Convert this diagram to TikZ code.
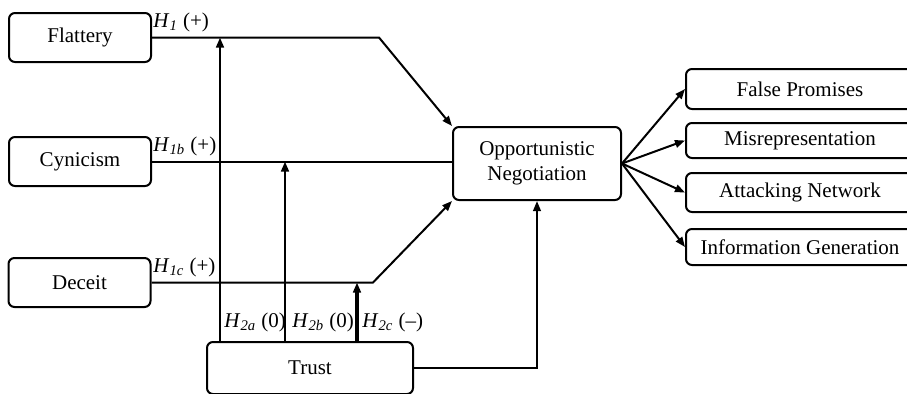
\documentclass[tikz,border=0pt]{standalone}
\usepackage{fontspec}
\setmainfont{Liberation Serif}
\usetikzlibrary{arrows.meta}

\begin{document}
\begin{tikzpicture}[x=0.5pt, y=-0.5pt,
    box/.style={draw, line width=1pt, rounded corners=3pt, inner sep=0pt, align=center,
        font=\fontsize{10.5}{12.5}\selectfont},
    lbl/.style={anchor=base west, inner sep=0pt, font=\fontsize{10.5}{12.5}\selectfont},
    link/.style={line width=1pt, -{Triangle[length=5pt,width=3.8pt]}}]
    \useasboundingbox (0,0) rectangle (907,393);
    \clip (0,0) rectangle (907,393);

    % Predictors
    \node[box, minimum width=71pt, minimum height=24.5pt] (flattery) at (80,37.5) {Flattery};
    \node[box, minimum width=71pt, minimum height=24.5pt] (cynicism) at (80,161.5) {Cynicism};
    \node[box, minimum width=71pt, minimum height=24.5pt] (deceit) at (79.5,282.5) {Deceit};

    % Moderator
    \node[box, minimum width=103pt, minimum height=26pt] (trust) at (310,368) {Trust};

    % Centre
    \node[box, minimum width=84pt, minimum height=36.5pt] (opp) at (537,163.5) {Opportunistic\\Negotiation};

    % Outcomes
    \node[box, minimum width=114pt, minimum height=20pt] (promises) at (800,89) {False Promises};
    \node[box, minimum width=114pt, minimum height=17.5pt] (misrep) at (800,140.5) {Misrepresentation};
    \node[box, minimum width=114pt, minimum height=19.5pt] (attack) at (800,192.5) {Attacking Network};
    \node[box, minimum width=114pt, minimum height=18pt] (infogen) at (800,247) {Information Generation};

    % Paths to centre
    \coordinate (k1) at (379,37.5);
    \coordinate (k3) at (373,282.5);
    \draw[link] (flattery.east) -- (k1) -- (opp.north west);
    \draw[line width=1pt] (cynicism.east) -- (cynicism.east -| opp.west);
    \draw[link] (deceit.east) -- (k3) -- (opp.south west);
    \draw[link] (trust.east) -| (opp.south);

    % Moderation
    \coordinate (m1) at (220,37.5);
    \coordinate (m2) at (285,161.5);
    \coordinate (m3) at (357,282.5);
    \draw[link, line width=1.3pt] (trust.north -| m1) -- (m1);
    \draw[link, line width=1.3pt] (trust.north -| m2) -- (m2);
    \draw[link, line width=2pt] (trust.north -| m3) -- (m3);

    % Outcomes
    \foreach \n in {promises,misrep,attack,infogen}
        \draw[link] (opp.east) -- (\n.west);

    % Labels
    \node[lbl] (h1) at (153,27) {\textit{H}\textsubscript{\textit{1}} (+)};
    \node[lbl] (h1b) at (153,151) {\textit{H}\textsubscript{\textit{1b}} (+)};
    \node[lbl] (h1c) at (153,272) {\textit{H}\textsubscript{\textit{1c}} (+)};
    \node[lbl] (h2a) at (224,327) {\textit{H}\textsubscript{\textit{2a}} (0)};
    \node[lbl] (h2b) at (292,327) {\textit{H}\textsubscript{\textit{2b}} (0)};
    \node[lbl] (h2c) at (362,327) {\textit{H}\textsubscript{\textit{2c}} (--)};
\end{tikzpicture}
\end{document}
